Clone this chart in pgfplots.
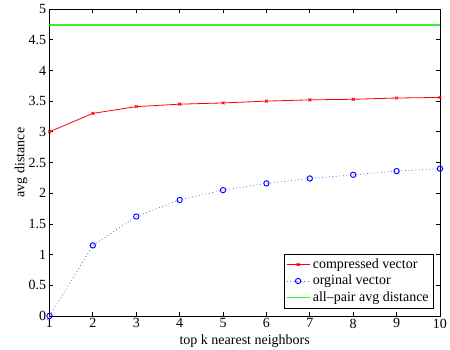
\documentclass[border=0pt]{standalone}
\usepackage{fontspec}
\setmainfont{Liberation Serif}
\usepackage{pgfplots}
\pgfplotsset{compat=1.18}
\definecolor{mgreen}{rgb}{0.2,0.95,0.2}
\begin{document}
\begin{tikzpicture}
\path[use as bounding box] (-37.1pt,-25.5pt) rectangle (300.4pt,237pt);
\begin{axis}[
  at={(0,0)}, anchor=south west,
  scale only axis,
  width=292.9pt, height=230.25pt,
  xmin=1, xmax=10, ymin=0, ymax=5,
  xtick={1,...,10},
  ytick={0,0.5,...,5},
  yticklabels={0,0.5,1,1.5,2,2.5,3,3.5,4,4.5,5},
  tick align=inside,
  major tick length=3pt,
  tick style={black, line width=0.6pt},
  axis line style={black, line width=0.7pt},
  /pgf/number format/assume math mode=true,
  ticklabel style={font=\fontsize{10.5}{12}\selectfont},
  xticklabel style={yshift=1.5pt},
  yticklabel style={xshift=1pt},
  label style={font=\fontsize{10.5}{12}\selectfont},
  xlabel={top k nearest neighbors},
  ylabel={avg distance},
  xlabel style={yshift=2pt},
  ylabel style={yshift=-6pt},
  legend style={at={(0.984,0.025)}, anchor=south east,
    font=\fontsize{10.5}{12}\selectfont, draw=black, line width=0.6pt,
    inner sep=1.5pt, row sep=-0.5pt, cells={anchor=west}},
  legend cell align=left,
]
\addplot[red, line width=0.6pt, mark=x, mark size=1.5pt] coordinates {
  (1,3.00) (2,3.30) (3,3.41) (4,3.45) (5,3.47)
  (6,3.50) (7,3.52) (8,3.53) (9,3.55) (10,3.56)
};
\addlegendentry{compressed vector}
\addplot[blue!60, dotted, line width=0.6pt,
  mark=o, mark size=2pt, mark options={solid, blue, line width=0.7pt}] coordinates {
  (1,0.00) (2,1.15) (3,1.62) (4,1.89) (5,2.05)
  (6,2.16) (7,2.24) (8,2.30) (9,2.36) (10,2.40)
};
\addlegendentry{orginal vector}
\addplot[color=mgreen, line width=1pt] coordinates {(1,4.74) (10,4.74)};
\addlegendentry{all--pair avg distance}
\end{axis}
\end{tikzpicture}
\end{document}
